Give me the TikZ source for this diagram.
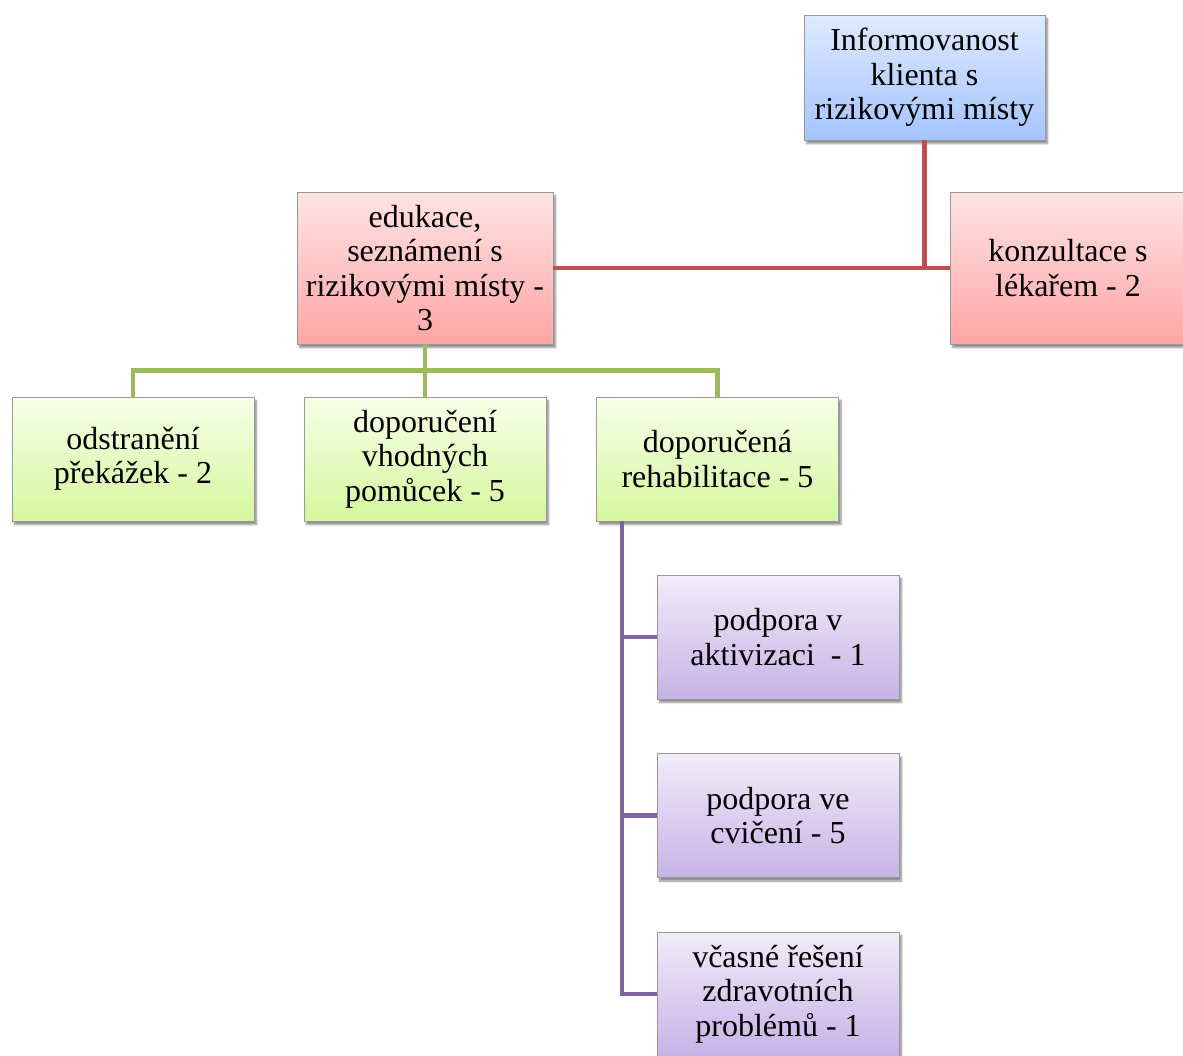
\documentclass[tikz,border=0pt]{standalone}
\usepackage{fontspec}
\setmainfont{Liberation Serif}
\usetikzlibrary{shadows.blur}
\definecolor{blueTop}{HTML}{DEEAFF}
\definecolor{blueBot}{HTML}{A4C3FE}
\definecolor{redTop}{HTML}{FFE4E4}
\definecolor{redBot}{HTML}{FFA5A5}
\definecolor{greenTop}{HTML}{F7FFE8}
\definecolor{greenBot}{HTML}{D5F79E}
\definecolor{purpleTop}{HTML}{F1ECF9}
\definecolor{purpleBot}{HTML}{C6B3E6}
\definecolor{redLine}{HTML}{C0504D}
\definecolor{greenLine}{HTML}{9BBB59}
\definecolor{purpleLine}{HTML}{8064A2}
\begin{document}
\begin{tikzpicture}[x=1pt,y=-1pt,
  box/.style={draw=black!40, line width=0.8pt, align=center, inner sep=2pt,
    font=\fontsize{32}{34.5}\selectfont,
    blur shadow={shadow xshift=2.5pt, shadow yshift=-3.5pt, shadow opacity=45, shadow blur steps=6},
    minimum width=242pt, minimum height=124pt},
  bluebox/.style={box, top color=blueTop, bottom color=blueBot},
  redbox/.style={box, top color=redTop, bottom color=redBot},
  greenbox/.style={box, top color=greenTop, bottom color=greenBot},
  purplebox/.style={box, top color=purpleTop, bottom color=purpleBot},
  conn/.style={line width=4.5pt},
]
\useasboundingbox (0,0) rectangle (1183,1055);
\clip (0,0) rectangle (1183,1055);

% nodes
\node[bluebox, minimum width=241pt, minimum height=125pt] (top) at (924.5,77.5)
  {Informovanost\\klienta s\\rizikovými místy};
\node[redbox, minimum width=256pt, minimum height=152pt] (edu) at (425,268)
  {edukace,\\seznámení s\\rizikovými místy -\\3};
\node[redbox, minimum width=236pt, minimum height=152pt] (konz) at (1068,268)
  {konzultace s\\lékařem - 2};
\node[greenbox] (odst) at (133,459) {odstranění\\překážek - 2};
\node[greenbox] (dopi) at (425,459) {doporučení\\vhodných\\pomůcek - 5};
\node[greenbox] (dopa) at (717.5,459) {doporučená\\rehabilitace - 5};
\node[purplebox] (pod1) at (778,637) {podpora v\\aktivizaci~ - 1};
\node[purplebox] (pod2) at (778,815.5) {podpora ve\\cvičení - 5};
\node[purplebox] (vcas) at (778,994) {včasné řešení\\zdravotních\\problémů - 1};

% red connectors
\draw[conn, redLine] (top.south) -- (top.south |- edu.east);
\draw[conn, redLine] (edu.east) -- (konz.west);

% green connectors
\coordinate (g) at ([yshift=-26pt]edu.south);
\draw[conn, greenLine] (edu.south) -- (g);
\draw[conn, greenLine] (odst.north) |- (g) -| (dopa.north);
\draw[conn, greenLine] (g) -- (dopi.north);

% purple connectors
\coordinate (p) at ([xshift=-95.5pt]dopa.south);
\draw[conn, purpleLine] (p) |- (vcas.west);
\draw[conn, purpleLine] (p |- pod1.west) -- (pod1.west);
\draw[conn, purpleLine] (p |- pod2.west) -- (pod2.west);
\end{tikzpicture}
\end{document}
